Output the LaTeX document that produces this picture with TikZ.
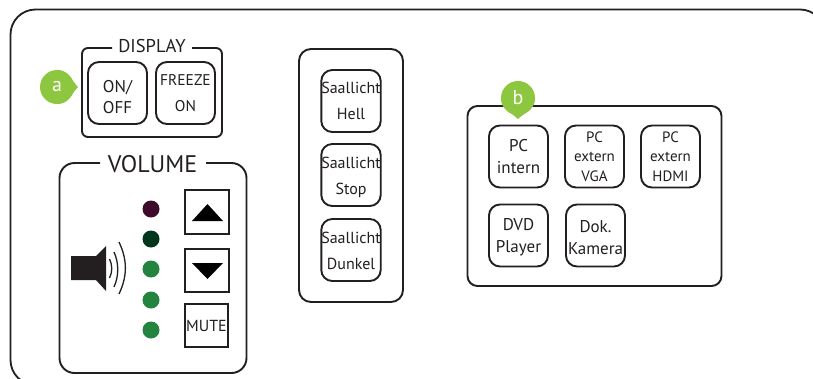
\documentclass[tikz,border=0pt]{standalone}
\usepackage{fontspec}
\setmainfont{PT Sans}
\definecolor{ink}{HTML}{231F20}
\definecolor{leaf}{HTML}{8DC63F}
\definecolor{ledg}{HTML}{23843F}
\definecolor{ledp}{HTML}{3D0A2C}
\definecolor{ledd}{HTML}{00361C}
\newcommand{\dropfirst}[1]{\rule{0pt}{#1}}
\tikzset{
  panel/.style={draw=ink,line width=1.9pt,rounded corners=10pt},
  key/.style={draw=ink,line width=1.9pt,rounded corners=11pt,minimum width=59pt,minimum height=62pt,inner sep=0pt,align=center,text=ink,font=\fontsize{17}{22}\selectfont},
  saalkey/.style={key,font=\fontsize{16}{26}\selectfont},
  smallkey/.style={key,font=\fontsize{15}{19.5}\selectfont},
  sqkey/.style={draw=ink,line width=1.9pt,minimum width=43.5pt,minimum height=43.5pt,inner sep=0pt},
  led/.style={circle,minimum size=17pt,inner sep=0pt},
  grouptitle/.style={text=ink,inner sep=0pt},
  pin/.style={fill=leaf,draw=none},
  pinlabel/.style={text=white,font=\fontsize{20}{20}\selectfont,inner sep=0pt},
}
\begin{document}
\begin{tikzpicture}[x=1pt,y=-1pt]
\useasboundingbox (0,0) rectangle (813,378);
\clip (0,0) rectangle (813,378);
\fill[white] (0,0) rectangle (813,378);
% outer frame
\draw[draw=ink,line width=1.8pt,rounded corners=25pt] (10.5,385) -- (10.5,9.5) -- (825,9.5) -- (825,385) -- cycle;
% display group
\draw[panel,rounded corners=6pt] (112,48) -- (82,48) -- (82,137) -- (222,137) -- (222,48) -- (192,48);
\node[grouptitle,font=\fontsize{18.5}{18.5}\selectfont] (displaytitle) at (152,46) {DISPLAY};
\node[key,font=\fontsize{17}{21}\selectfont] (onoff) at (117.5,93) {\dropfirst{21pt}ON/\\OFF};
\node[key,font=\fontsize{15.5}{26}\selectfont] (freeze) at (185.5,93) {FREEZE\\ON};
% volume group
\draw[panel,rounded corners=15pt] (100,163) -- (59.5,163) -- (59.5,373) -- (246.5,373) -- (246.5,163) -- (206,163);
\node[grouptitle,font=\fontsize{24}{24}\selectfont] (voltitle) at (152.5,164) {VOLUME};
\node[led,fill=ledp] (l1) at (151,209) {};
\node[led,fill=ledd] (l2) at (151,239) {};
\node[led,fill=ledg] (l3) at (151,269) {};
\node[led,fill=ledg] (l4) at (151,300) {};
\node[led,fill=ledg] (l5) at (151,330) {};
\node[sqkey] (up) at (207,212) {};
\fill[black] (192,221) -- (207.5,204) -- (223,221) -- cycle;
\node[sqkey] (down) at (207,270.5) {};
\fill[black] (192,263) -- (207.5,279) -- (223,263) -- cycle;
\node[sqkey,font=\fontsize{16}{16}\selectfont,text=ink] (mute) at (206.5,325.5) {MUTE};
% speaker
\fill[ink] (71,256) -- (96,256) -- (106,246) -- (106,291) -- (96,280) -- (71,280) -- cycle;
\draw[ink,line width=1.3pt] (109.5,259) .. controls (112.5,265) and (112.5,272) .. (109.5,278);
\draw[ink,line width=1.3pt] (114,252) .. controls (119,263) and (119,276) .. (114,287);
\draw[ink,line width=1.3pt] (119,242) .. controls (127.5,260) and (127.5,276) .. (119,294);
% saallicht
\draw[panel,rounded corners=12pt] (299,49) rectangle (403,302);
\node[saalkey] (hell) at (351,101) {Saallicht\\Hell};
\node[saalkey] (stop) at (351,175) {\dropfirst{16pt}Saallicht\\Stop};
\node[saalkey] (dunkel) at (351,250) {\dropfirst{14pt}Saallicht\\Dunkel};
% sources
\draw[panel] (467.5,106) rectangle (721.5,286);
\node[key] (pci) at (518.5,156.5) {PC\\intern};
\node[smallkey] (vga) at (594.5,156.5) {PC\\extern\\VGA};
\node[smallkey] (hdmi) at (670.5,156.5) {PC\\extern\\HDMI};
\node[key] (dvd) at (518.5,235.5) {\dropfirst{16pt}DVD\\Player};
\node[key] (dok) at (595.5,235.5) {\dropfirst{16pt}Dok.\\Kamera};
% pins
\fill[pin] (57,87) circle[radius=17];
\fill[pin] (57,70) .. controls (68,70) and (72,81) .. (78,87) .. controls (72,93) and (68,104) .. (57,104) -- cycle;
\node[pinlabel] (a) at (57,86) {a};
\fill[pin] (518,98) circle[radius=17];
\fill[pin] (501,98) .. controls (501,109) and (512,113) .. (518,119) .. controls (524,113) and (535,109) .. (535,98) -- cycle;
\node[pinlabel] (b) at (518,98) {b};
\end{tikzpicture}
\end{document}
